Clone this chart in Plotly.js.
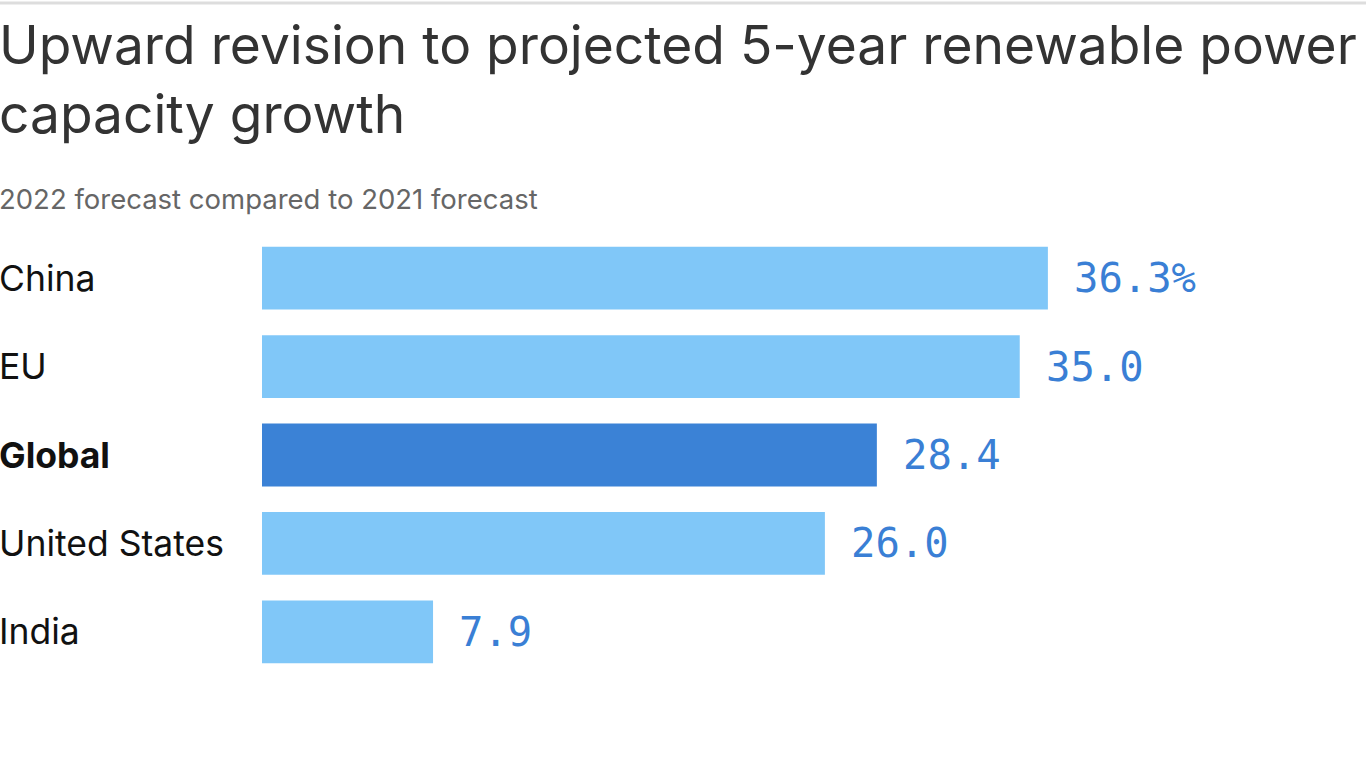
<!DOCTYPE html>
<html>
<head>
<meta charset="utf-8">
<script src="https://cdn.plot.ly/plotly-3.0.1.min.js"></script>
<style>html,body{margin:0;padding:0;background:#fff;}#chart{width:1366px;height:768px;}</style>
</head>
<body>
<div id="chart"></div>
<script>
const categories = ["China", "EU", "Global", "United States", "India"];
const values = [36.3, 35.0, 28.4, 26.0, 7.9];
const valueLabels = ["36.3%", "35.0", "28.4", "26.0", "7.9"];
const highlight = "Global";
const titleText = "Upward revision to projected 5-year renewable power<br>capacity growth";
const subtitleText = "2022 forecast compared to 2021 forecast";

const W = 1366, H = 768;
const ml = 262, mr = 0, mt = 234, mb = 92;
const plotW = W - ml - mr, plotH = H - mt - mb;
const px2paperX = p => (p - ml) / plotW;
const px2paperY = p => (H - mb - p) / plotH;

const light = "#80c7f8", dark = "#3b82d6";
const colors = categories.map(c => c === highlight ? dark : light);
const sans = "Inter, 'Noto Sans', sans-serif";

const annotations = [];
categories.forEach((c, i) => {
  annotations.push({
    xref: "paper", yref: "y", x: px2paperX(0), y: c, xanchor: "left", yanchor: "middle", xshift: -3,
    text: c === highlight ? "<b>" + c + "</b>" : c, showarrow: false,
    font: {family: sans, size: 35.5, color: "#111"}
  });
  annotations.push({
    xref: "x", yref: "y", x: values[i], y: c, xanchor: "left", yanchor: "middle", xshift: 24,
    text: valueLabels[i], showarrow: false,
    font: {family: "'DejaVu Sans Mono', monospace", size: 40.5, color: "#3a7fd5"}
  });
});
annotations.push({
  xref: "paper", yref: "paper", x: px2paperX(0), y: px2paperY(199), xanchor: "left", yanchor: "middle", xshift: -3,
  text: subtitleText, showarrow: false,
  font: {family: sans, size: 27.5, color: "#666"}
});
annotations.push({
  xref: "paper", yref: "paper", x: px2paperX(0), y: px2paperY(10), xanchor: "left", yanchor: "top", xshift: -3,
  text: titleText, showarrow: false, align: "left",
  font: {family: sans, size: 53.3, color: "#333"}
});

const data = [{
  type: "bar", orientation: "h", y: categories, x: values,
  marker: {color: colors, line: {width: 0}},
  hoverinfo: "skip"
}];

const layout = {
  width: W, height: H,
  margin: {l: ml, r: mr, t: mt, b: mb, pad: 0},
  paper_bgcolor: "#fff", plot_bgcolor: "#fff",
  bargap: 0.29,
  xaxis: {range: [0, plotW / 21.65], visible: false, fixedrange: true},
  yaxis: {autorange: "reversed", showticklabels: false, showgrid: false, zeroline: false, ticks: "", fixedrange: true},
  showlegend: false,
  annotations: annotations,
  shapes: [{
    type: "line", xref: "paper", yref: "paper",
    x0: px2paperX(0), x1: px2paperX(W), y0: px2paperY(3), y1: px2paperY(3),
    line: {color: "#dddddd", width: 3}
  }]
};

Plotly.newPlot("chart", data, layout, {displayModeBar: false, staticPlot: true});
</script>
</body>
</html>
